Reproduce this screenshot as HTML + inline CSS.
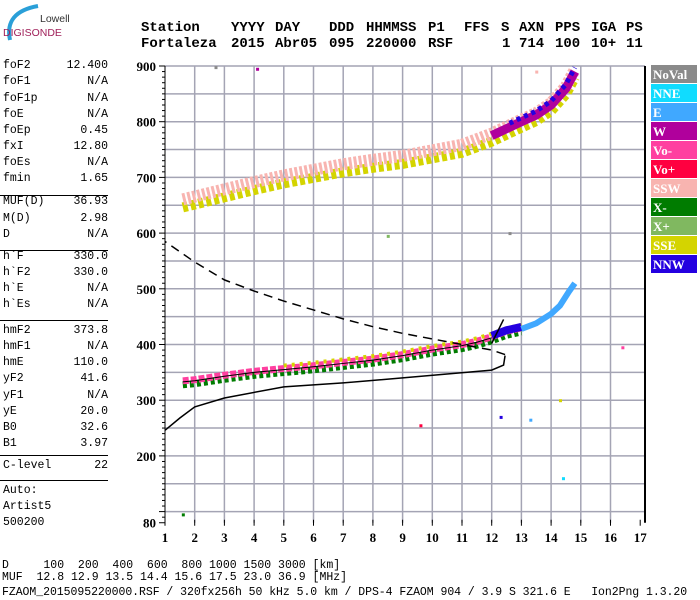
<!DOCTYPE html>
<html><head><meta charset="utf-8">
<style>
body{margin:0;background:#fff;width:700px;height:600px;overflow:hidden;position:relative;font-family:"Liberation Mono",monospace}
.h{position:absolute;font:bold 14px "Liberation Mono",monospace;color:#000;white-space:pre}
.p{position:absolute;font:11.5px "Liberation Mono",monospace;color:#000;white-space:pre;line-height:14px}
.lg{position:absolute;left:651px;width:46px;height:18px;font:bold 13px "Liberation Serif",serif;color:#fff;padding-left:2px;box-sizing:border-box;line-height:19px}
</style></head><body>
<svg style="position:absolute;left:0;top:0" width="80" height="50">
<path d="M10,40 Q4,12 38,6" stroke="#2a9fd8" stroke-width="4" fill="none"/>
<text x="40" y="22" font-family="Liberation Sans,sans-serif" font-size="10.5" fill="#333">Lowell</text>
<text x="3" y="36" font-family="Liberation Sans,sans-serif" font-size="10.5" fill="#a0205a">DIGISONDE</text>
</svg>
<div>
<span class="h" style="left:141px;top:20px">Station</span><span class="h" style="left:231px;top:20px">YYYY</span><span class="h" style="left:275px;top:20px">DAY</span><span class="h" style="left:329px;top:20px">DDD</span><span class="h" style="left:366px;top:20px">HHMMSS</span><span class="h" style="left:428px;top:20px">P1</span><span class="h" style="left:464px;top:20px">FFS</span><span class="h" style="left:501px;top:20px">S</span><span class="h" style="left:519px;top:20px">AXN</span><span class="h" style="left:555px;top:20px">PPS</span><span class="h" style="left:591px;top:20px">IGA</span><span class="h" style="left:626px;top:20px">PS</span>
<span class="h" style="left:141px;top:36px">Fortaleza</span><span class="h" style="left:231px;top:36px">2015</span><span class="h" style="left:275px;top:36px">Abr05</span><span class="h" style="left:329px;top:36px">095</span><span class="h" style="left:366px;top:36px">220000</span><span class="h" style="left:428px;top:36px">RSF</span><span class="h" style="left:502px;top:36px">1</span><span class="h" style="left:519px;top:36px">714</span><span class="h" style="left:555px;top:36px">100</span><span class="h" style="left:591px;top:36px">10+</span><span class="h" style="left:626px;top:36px">11</span>
</div>
<div id="panel"></div>
<div class="p" style="left:2px;top:559px">D     100  200  400  600  800 1000 1500 3000 [km]</div>
<div class="p" style="left:2px;top:571px">MUF  12.8 12.9 13.5 14.4 15.6 17.5 23.0 36.9 [MHz]</div>
<div class="p" style="left:2px;top:586px;letter-spacing:-0.05px">FZAOM_2015095220000.RSF / 320fx256h 50 kHz 5.0 km / DPS-4 FZAOM 904 / 3.9 S 321.6 E   Ion2Png 1.3.20</div>
<div id="legend"></div>
<svg id="chart" style="position:absolute;left:0;top:0" width="700" height="600"></svg>
<script>
const panelLabels=["foF2","foF1","foF1p","foE","foEp","fxI","foEs","fmin","MUF(D)","M(D)","D","h`F","h`F2","h`E","h`Es","hmF2","hmF1","hmE","yF2","yF1","yE","B0","B1","C-level","Auto:","Artist5","500200"];
const panelValues=["12.400","N/A","N/A","N/A","0.45","12.80","N/A","1.65","36.93","2.98","N/A","330.0","330.0","N/A","N/A","373.8","N/A","110.0","41.6","N/A","20.0","32.6","3.97","22","","",""];
const panelY=[67,83,100,116,132,148,164,180,203,220,236,258,274,290,306,332,348,364,380,397,413,429,445,467,492,508,524];
const panelLines=[195,250,320,455,480];
const panel=document.getElementById('panel');
panelLabels.forEach((l,i)=>{
  const a=document.createElement('div');a.className='p';a.style.left='3px';a.style.top=(panelY[i]-8)+'px';a.textContent=l;
  
  
  panel.appendChild(a);
  const b=document.createElement('div');b.className='p';b.style.right=(700-108)+'px';b.style.top=(panelY[i]-8)+'px';b.textContent=panelValues[i];
  
  
  panel.appendChild(b);
});
panelLines.forEach(y=>{
  const d=document.createElement('div');d.style.cssText=`position:absolute;left:0;top:${y}px;width:108px;height:1px;background:#000`;
  
  
  panel.appendChild(d);
});
const legendNames=["NoVal","NNE","E","W","Vo-","Vo+","SSW","X-","X+","SSE","NNW"];
const legendColors=["#8a8a8a","#10dcff","#40a8ff","#b0009c","#ff40a0","#ff0040","#f8b4b0","#007c00","#80b860","#d4d400","#2400e0"];
const lg=document.getElementById('legend');
legendNames.forEach((n,i)=>{
  const d=document.createElement('div');d.className='lg';d.style.top=(65+i*19)+'px';d.style.background=legendColors[i];d.textContent=n;
  
  
  lg.appendChild(d);
});

// chart data
const xTicks=[1,2,3,4,5,6,7,8,9,10,11,12,13,14,15,16,17];
const yTicks=[80,200,300,400,500,600,700,800,900];
const f2Freq=[1.6,2,3,4,5,6,7,8,9,10,11,11.5,12,12.5,13,13.5,14,14.3,14.6,14.8];
const f2Height=[333,335,343,350,355,360,366,372,380,390,398,404,412,422,428,438,455,470,495,510];
const hopFreq=[1.6,2,3,4,5,6,7,8,9,10,11,12,12.6,13,13.5,14,14.5,14.8];
const hopHeight=[657,662,675,688,700,710,720,728,735,745,755,775,790,800,812,830,860,890];
const profFreq=[1,1.5,2,3,5,7,9,10.5,12,12.4,12.45];
const profHeight=[246,268,288,304,324,331,340,347,354,363,380];
const dashFreq=[12.45,12,11,10,9,8,7,6,5,4,3,2,1];
const dashHeight=[382,390,400,410,420,432,446,462,478,496,516,548,585];
const dotFreq=[2.7,4.1,13.5,14.3,14.4,16.4,1.6,12.3,13.3,9.6,8.5,12.6];
const dotHeight=[898,895,890,300,160,395,95,270,265,255,595,600];

const X0=165,XS=29.7,Y0=66,YS=0.557;
const xs=f=>X0+(f-1)*XS, ys=h=>Y0+(900-h)*YS;
const svg=document.getElementById('chart');const NS='http://www.w3.org/2000/svg';
function mk(t,a,name){const e=document.createElementNS(NS,t);for(const k in a)e.setAttribute(k,a[k]);
  
  
  svg.appendChild(e);return e;}
for(let f=2;f<=16;f++)mk('line',{x1:xs(f),x2:xs(f),y1:Y0,y2:ys(80),stroke:'#a4a4b4','stroke-width':1.5},'grid-v');
for(let h=100;h<=900;h+=50)mk('line',{x1:X0,x2:645,y1:ys(h),y2:ys(h),stroke:'#a4a4b4','stroke-width':1.5},'grid-h');
mk('line',{x1:X0,x2:X0,y1:Y0,y2:ys(80),stroke:'#000','stroke-width':1},'y-axis');
mk('line',{x1:645,x2:645,y1:Y0,y2:ys(80),stroke:'#000','stroke-width':2},'plot-right-border');
for(let h=80;h<=900;h+=10){const L=(h%100==0||h==80)?6:3;mk('line',{x1:X0-L,x2:X0,y1:ys(h),y2:ys(h),stroke:'#000'},'y-tick');}
xTicks.forEach(f=>{mk('line',{x1:xs(f),x2:xs(f),y1:ys(80)-3,y2:ys(80)+3,stroke:'#000'},'x-tick');
  const t=mk('text',{x:xs(f),y:542,'text-anchor':'middle','font-family':'Liberation Serif,serif','font-weight':'bold','font-size':13},'x-tick-label');t.textContent=f;});
yTicks.forEach(h=>{const t=mk('text',{x:156,y:ys(h)+5,'text-anchor':'end','font-family':'Liberation Serif,serif','font-weight':'bold','font-size':13},'y-tick-label');t.textContent=h;});
function pts(F,H,dy){return F.map((f,i)=>xs(f)+','+(ys(H[i])+(dy||0))).join(' ');}
mk('polyline',{points:pts(hopFreq,hopHeight,6),fill:'none',stroke:'#d4d400','stroke-width':10,'stroke-dasharray':'5 3'},'hop-trace-sse');
mk('polyline',{points:pts(hopFreq,hopHeight,-2),fill:'none',stroke:'#f8b4b0','stroke-width':12,'stroke-dasharray':'3 2'},'hop-trace-ssw');
mk('polyline',{points:pts(hopFreq.slice(11),hopHeight.slice(11),0),fill:'none',stroke:'#b0009c','stroke-width':9},'hop-trace-w');
mk('polyline',{points:pts(hopFreq.slice(12),hopHeight.slice(12),-4),fill:'none',stroke:'#2400e0','stroke-width':5,'stroke-dasharray':'4 4'},'hop-trace-nnw');
mk('polyline',{points:pts(f2Freq.slice(0,15),f2Height.slice(0,15),3),fill:'none',stroke:'#007c00','stroke-width':7,'stroke-dasharray':'4 3'},'f2-trace-x');
mk('polyline',{points:pts(f2Freq.slice(0,15),f2Height.slice(0,15),-1),fill:'none',stroke:'#ff40a0','stroke-width':7,'stroke-dasharray':'6 2'},'f2-trace-vo');
mk('polyline',{points:pts(f2Freq.slice(4,15),f2Height.slice(4,15),-4),fill:'none',stroke:'#d4d400','stroke-width':4,'stroke-dasharray':'3 5'},'f2-trace-sse');
mk('polyline',{points:pts(f2Freq.slice(12,15),f2Height.slice(12,15),-2),fill:'none',stroke:'#2400e0','stroke-width':8},'f2-trace-nnw');
mk('polyline',{points:pts(f2Freq.slice(14),f2Height.slice(14),0),fill:'none',stroke:'#40a8ff','stroke-width':6},'f2-trace-e');
mk('polyline',{points:pts(f2Freq.slice(0,13),f2Height.slice(0,13),0),fill:'none',stroke:'#000','stroke-width':1},'f2-trace-fit');
mk('polyline',{points:pts(profFreq,profHeight),fill:'none',stroke:'#000','stroke-width':1.5},'true-height-profile');
mk('polyline',{points:pts(dashFreq,dashHeight),fill:'none',stroke:'#000','stroke-width':1.5,'stroke-dasharray':'9 6'},'profile-extrapolation');
mk('line',{x1:xs(12.0),y1:ys(402),x2:xs(12.4),y2:ys(445),stroke:'#000','stroke-width':1.5},'o-trace-fit');
dotFreq.forEach((f,i)=>mk('rect',{x:xs(f)-1,y:ys(dotHeight[i])-1,width:3,height:3,fill:legendColors[(i*3)%11]},'stray-echo'));
</script>
</body></html>
